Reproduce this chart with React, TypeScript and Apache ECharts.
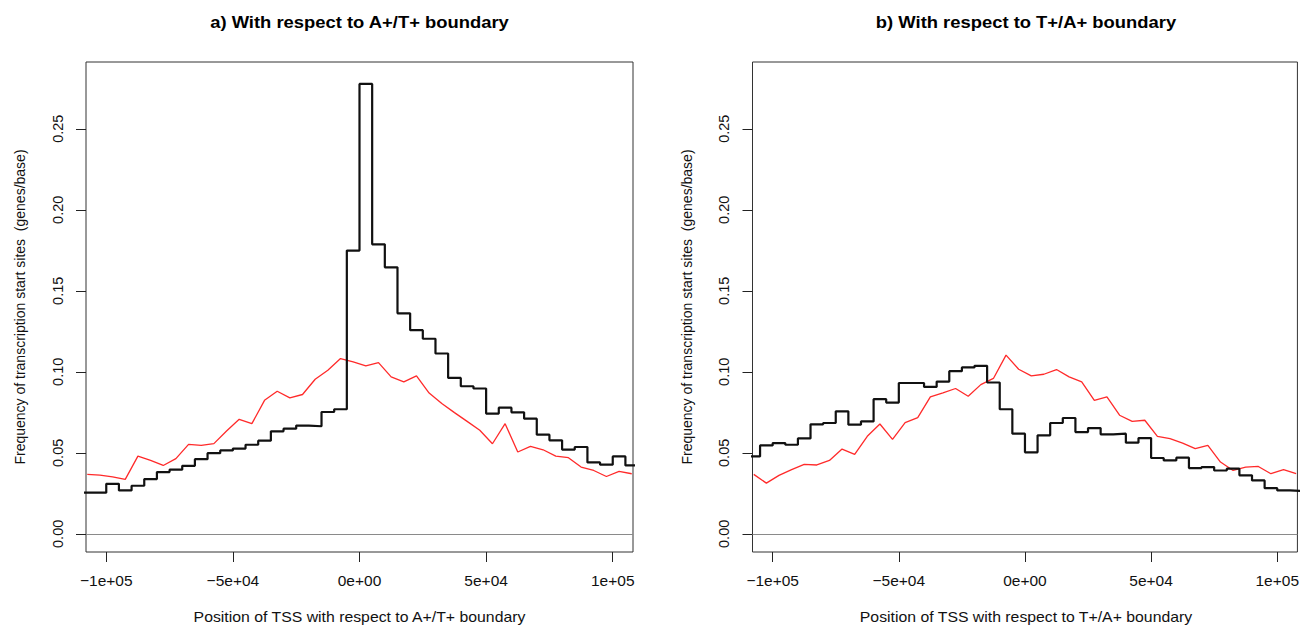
import React, { useEffect, useRef } from "react";
import * as echarts from "echarts";

// Bin starts (5 kb bins) for the step histograms
const binStarts = [
  -110000, -105000, -100000, -95000, -90000, -85000, -80000, -75000, -70000, -65000, -60000,
  -55000, -50000, -45000, -40000, -35000, -30000, -25000, -20000, -15000, -10000, -5000,
  0, 5000, 10000, 15000, 20000, 25000, 30000, 35000, 40000, 45000, 50000, 55000, 60000,
  65000, 70000, 75000, 80000, 85000, 90000, 95000, 100000, 105000,
];
// Bin centres for the red (expected) curves
const binCenters = [
  -107500, -102500, -97500, -92500, -87500, -82500, -77500, -72500, -67500, -62500, -57500,
  -52500, -47500, -42500, -37500, -32500, -27500, -22500, -17500, -12500, -7500, -2500,
  2500, 7500, 12500, 17500, 22500, 27500, 32500, 37500, 42500, 47500, 52500, 57500, 62500,
  67500, 72500, 77500, 82500, 87500, 92500, 97500, 102500, 107500,
];

const blackA = [
  0.0254, 0.0254, 0.0309, 0.0268, 0.0297, 0.0338, 0.0381, 0.0396, 0.042, 0.0461, 0.0498,
  0.0515, 0.0526, 0.055, 0.0575, 0.0633, 0.0649, 0.0668, 0.0664, 0.0752, 0.0769, 0.1748,
  0.2777, 0.1787, 0.1645, 0.1361, 0.1257, 0.1204, 0.1113, 0.0962, 0.0911, 0.0897, 0.0742,
  0.0779, 0.075, 0.0711, 0.0612, 0.0577, 0.052, 0.0536, 0.0441, 0.0427, 0.0478, 0.0422,
];
const redA = [
  0.0367, 0.0363, 0.0352, 0.0336, 0.048, 0.0453, 0.0422, 0.0464, 0.0552, 0.0546, 0.0557,
  0.0635, 0.0707, 0.068, 0.0824, 0.088, 0.0839, 0.086, 0.0954, 0.101, 0.1082, 0.1061,
  0.1037, 0.1057, 0.0969, 0.0938, 0.0975, 0.0869, 0.0804, 0.0748, 0.0694, 0.0639, 0.0556,
  0.068, 0.0505, 0.054, 0.0519, 0.048, 0.047, 0.0412, 0.0391, 0.0354, 0.0385, 0.0371,
];
const blackB = [
  0.0478, 0.0546, 0.056, 0.055, 0.0589, 0.0676, 0.0684, 0.0756, 0.0674, 0.0694, 0.0831,
  0.081, 0.0931, 0.0931, 0.0907, 0.094, 0.1004, 0.1027, 0.1037, 0.0934, 0.0769, 0.0618,
  0.0503, 0.0608, 0.0684, 0.0715, 0.0628, 0.0653, 0.0614, 0.0618, 0.0563, 0.0591, 0.0468,
  0.0453, 0.047, 0.0406, 0.0412, 0.0391, 0.0402, 0.0361, 0.033, 0.0282, 0.0268, 0.0264,
];
const redB = [
  0.0367, 0.0313, 0.0361, 0.0396, 0.0429, 0.0425, 0.0453, 0.0523, 0.049, 0.0602, 0.0678,
  0.0583, 0.0686, 0.0717, 0.0845, 0.087, 0.0897, 0.0849, 0.0921, 0.0959, 0.1103, 0.1016,
  0.0975, 0.0985, 0.1014, 0.0969, 0.0938, 0.0824, 0.0845, 0.0732, 0.0694, 0.0701, 0.0602,
  0.0587, 0.056, 0.0526, 0.0546, 0.0443, 0.0391, 0.0412, 0.0416, 0.0371, 0.0396, 0.0371,
];

const xTickValues = [-100000, -50000, 0, 50000, 100000];
const xTickLabels = ["\u22121e+05", "\u22125e+04", "0e+00", "5e+04", "1e+05"];
const yTickValues = [0, 0.05, 0.1, 0.15, 0.2, 0.25];
const yTickLabels = ["0.00", "0.05", "0.10", "0.15", "0.20", "0.25"];

const panelTitles = ["a) With respect to A+/T+ boundary", "b) With respect to T+/A+ boundary"];
const xTitles = [
  "Position of TSS with respect to A+/T+ boundary",
  "Position of TSS with respect to T+/A+ boundary",
];
const yTitle = "Frequency of transcription start sites  (genes/base)";

const FONT = '"Liberation Sans", Arial, sans-serif';
const X_MIN = -108000;
const X_MAX = 108000;
const Y_MIN = -0.0112;
const Y_MAX = 0.2912;

const GRID_TOP = 62;
const GRID_H = 490;
const GRID_W = 547;
const GRID_LEFTS = [86, 752.5];

function labelFor(values: number[], labels: string[], v: number) {
  const i = values.findIndex((t) => Math.abs(t - v) < 1e-9 * Math.max(1, Math.abs(t)));
  return i >= 0 ? labels[i] : "";
}

function stepData(vals: number[]) {
  const d = binStarts.map((x, i) => [x, vals[i]]);
  d.push([binStarts[binStarts.length - 1] + 5000, vals[vals.length - 1]]);
  return d;
}

export default function App() {
  const ref = useRef<HTMLDivElement>(null);
  useEffect(() => {
    document.body.style.margin = "0";
    if (!ref.current) return;
    const chart = echarts.init(ref.current, undefined, { renderer: "svg" });

    const grids = GRID_LEFTS.map((left) => ({
      left,
      top: GRID_TOP,
      width: GRID_W,
      height: GRID_H,
      show: true,
      borderColor: "#333",
      borderWidth: 1,
      backgroundColor: "transparent",
    }));

    const xAxes = GRID_LEFTS.map((_, i) => ({
      type: "value",
      gridIndex: i,
      position: "bottom",
      min: X_MIN,
      max: X_MAX,
      splitLine: { show: false },
      axisLine: { show: false, onZero: false },
      axisTick: {
        show: true,
        inside: false,
        length: 10,
        customValues: xTickValues,
        lineStyle: { color: "#222", width: 1 },
      },
      axisLabel: {
        customValues: xTickValues,
        margin: 20,
        color: "#111",
        fontSize: 15.5,
        fontFamily: FONT,
        formatter: (v: number) => labelFor(xTickValues, xTickLabels, v),
      },
    }));

    const yAxes = GRID_LEFTS.map((_, i) => ({
      type: "value",
      gridIndex: i,
      position: "left",
      min: Y_MIN,
      max: Y_MAX,
      splitLine: { show: false },
      axisLine: { show: false, onZero: false },
      axisTick: {
        show: true,
        inside: false,
        length: 10,
        customValues: yTickValues,
        lineStyle: { color: "#222", width: 1 },
      },
      axisLabel: {
        customValues: yTickValues,
        rotate: 90,
        margin: 21,
        color: "#111",
        fontSize: 14.5,
        fontFamily: FONT,
        formatter: (v: number) => labelFor(yTickValues, yTickLabels, v),
      },
    }));

    const series: any[] = [];
    [
      [blackA, redA],
      [blackB, redB],
    ].forEach(([blk, red], i) => {
      series.push({
        type: "line",
        xAxisIndex: i,
        yAxisIndex: i,
        data: binCenters.map((x, k) => [x, red[k]]),
        showSymbol: false,
        clip: true,
        lineStyle: { color: "#ff2a2a", width: 1.3 },
        markLine: {
          silent: true,
          symbol: "none",
          label: { show: false },
          lineStyle: { color: "#8a8a8a", width: 1, type: "solid" },
          data: [{ yAxis: 0 }],
        },
        z: 2,
      });
      series.push({
        type: "line",
        xAxisIndex: i,
        yAxisIndex: i,
        step: "end",
        data: stepData(blk),
        showSymbol: false,
        clip: true,
        lineStyle: { color: "#111", width: 2.2 },
        z: 3,
      });
    });

    const graphics: any[] = [];
    GRID_LEFTS.forEach((left, i) => {
      const cx = left + GRID_W / 2;
      graphics.push({
        type: "text",
        x: cx,
        y: 22,
        scaleX: 1.15,
        style: {
          text: panelTitles[i],
          font: `bold 16px ${FONT}`,
          fill: "#000",
          align: "center",
          verticalAlign: "middle",
          textAlign: "center",
          textVerticalAlign: "middle",
        },
      });
      graphics.push({
        type: "text",
        x: cx,
        y: 617,
        scaleX: 1.13,
        style: {
          text: xTitles[i],
          font: `14px ${FONT}`,
          fill: "#111",
          align: "center",
          verticalAlign: "middle",
          textAlign: "center",
          textVerticalAlign: "middle",
        },
      });
      graphics.push({
        type: "text",
        x: left - 66,
        y: GRID_TOP + GRID_H / 2,
        rotation: Math.PI / 2,
        style: {
          text: yTitle,
          font: `14px ${FONT}`,
          fill: "#111",
          align: "center",
          verticalAlign: "middle",
          textAlign: "center",
          textVerticalAlign: "middle",
        },
      });
    });

    chart.setOption({
      animation: false,
      backgroundColor: "#fff",
      grid: grids,
      xAxis: xAxes,
      yAxis: yAxes,
      series,
      graphic: graphics,
    });
    return () => chart.dispose();
  }, []);
  return <div ref={ref} style={{ width: 1302, height: 626 }} />;
}
